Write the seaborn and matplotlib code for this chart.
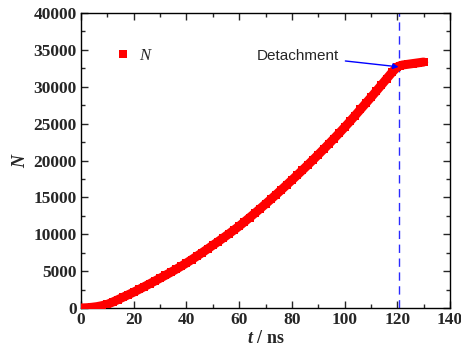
import numpy as np
import pandas as pd
import matplotlib
matplotlib.use("Agg")
import matplotlib.pyplot as plt
from matplotlib.lines import Line2D
from matplotlib.ticker import MultipleLocator
import seaborn as sns

# values (t in ns, N = count)
t_ns = [0, 2, 4, 6, 8, 10, 12, 14, 16, 18, 20, 22, 24, 26, 28, 30, 32, 34, 36, 38,
        40, 42, 44, 46, 48, 50, 52, 54, 56, 58, 60, 62, 64, 66, 68, 70, 72, 74, 76, 78,
        80, 82, 84, 86, 88, 90, 92, 94, 96, 98, 100, 102, 104, 106, 108, 110, 112, 114,
        116, 118, 120, 121, 122, 124, 126, 128, 130]
n_vals = [0, 30, 90, 180, 320, 500, 800, 1130, 1470, 1810, 2150, 2520, 2890, 3270, 3650,
          4040, 4430, 4830, 5240, 5660, 6100, 6560, 7030, 7510, 8000, 8500, 9000, 9510,
          10030, 10560, 11100, 11680, 12270, 12870, 13480, 14100, 14730, 15370, 16020,
          16680, 17340, 18010, 18690, 19380, 20080, 20790, 21510, 22240, 22980, 23730,
          24500, 25290, 26100, 26920, 27740, 28560, 29400, 30250, 31100, 31950, 32700,
          32850, 32950, 33050, 33150, 33250, 33350]
detach_t = 120.5
detach_n = 32700

df = pd.DataFrame({"t": t_ns, "N": n_vals})

sns.set_style("ticks")
plt.rcParams["font.family"] = ["Liberation Serif", "DejaVu Serif"]
plt.rcParams["mathtext.fontset"] = "custom"
plt.rcParams["mathtext.it"] = "Liberation Serif:italic:bold"
plt.rcParams["mathtext.rm"] = "Liberation Serif:bold"

fig = plt.figure(figsize=(4.61, 3.47), dpi=100)
ax = fig.add_axes([0.1757, 0.1124, 0.8005, 0.8501])

# dense square markers -> thick red band
sns.lineplot(data=df, x="t", y="N", color="#ff0000", lw=6.5, marker="s",
             markersize=6, markeredgewidth=0, ax=ax, zorder=3, legend=False)

ax.axvline(detach_t, color="#2a2aff", lw=1.0, ls=(0, (6, 4)), zorder=2)
ax.annotate("Detachment", xy=(detach_t, detach_n), xytext=(98, 34200),
            fontsize=11, family="Liberation Sans", ha="right", va="center",
            arrowprops=dict(arrowstyle="-|>", color="#0000ff", lw=1.0,
                            mutation_scale=8, shrinkA=2, shrinkB=0))

ax.set_xlim(0, 140)
ax.set_ylim(0, 40000)
ax.xaxis.set_major_locator(MultipleLocator(20))
ax.xaxis.set_minor_locator(MultipleLocator(10))
ax.yaxis.set_major_locator(MultipleLocator(5000))
ax.yaxis.set_minor_locator(MultipleLocator(2500))
ax.tick_params(which="both", direction="in", top=True, right=True, width=1.0)
ax.tick_params(which="major", length=5, labelsize=12.5, pad=3)
ax.tick_params(which="minor", length=3)
for lab in ax.get_xticklabels() + ax.get_yticklabels():
    lab.set_fontweight("bold")
for sp in ax.spines.values():
    sp.set_linewidth(1.0)
    sp.set_color("black")

ax.set_xlabel(r"$t$ / ns", fontsize=13, fontweight="bold", labelpad=1)
ax.set_ylabel(r"$N$", fontsize=13, fontweight="bold", labelpad=3)

handle = Line2D([], [], ls="none", marker="s", markersize=6, color="#ff0000",
                markeredgewidth=0)
ax.legend([handle], ["N"], loc="center left", bbox_to_anchor=(0.05, 0.855),
          frameon=False, handletextpad=0.5, handlelength=1.0,
          prop=dict(family="Liberation Serif", style="italic", size=12))

fig.savefig("out.png", dpi=100)
